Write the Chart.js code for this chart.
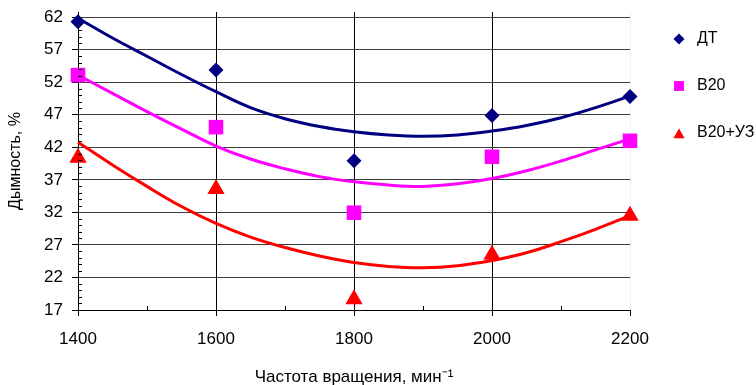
<!DOCTYPE html>
<html>
<head>
<meta charset="utf-8">
<script src="https://cdn.jsdelivr.net/npm/chart.js@4.4.1/dist/chart.umd.min.js"></script>
<style>
  html, body { margin: 0; padding: 0; background: #fff; }
  #wrap { width: 756px; height: 385px; }
</style>
</head>
<body>
<div id="wrap"><canvas id="smokeChart"></canvas></div>
<script>
// measured points
var rpm = [1400, 1600, 1800, 2000, 2200];
var dtValues = [61.3, 53.9, 39.95, 46.9, 49.8];
var b20Values = [53.1, 45.1, 31.95, 40.55, 43.0];
var b20usValues = [40.4, 35.6, 18.65, 25.5, 31.5];

// trend curves, every 50 rpm
var trendRpm = [1400, 1450, 1500, 1550, 1600, 1650, 1700, 1750, 1800, 1850, 1900, 1950, 2000, 2050, 2100, 2150, 2200];
var dtTrend = [61.85, 58.8, 56.0, 53.2, 50.55, 48.1, 46.4, 45.2, 44.4, 43.9, 43.7, 43.9, 44.5, 45.35, 46.55, 48.1, 49.9];
var b20Trend = [53.1, 50.3, 47.5, 44.8, 42.2, 40.2, 38.7, 37.5, 36.7, 36.2, 36.0, 36.4, 37.2, 38.4, 39.9, 41.6, 43.3];
var b20usTrend = [42.8, 39.3, 36.0, 32.9, 30.3, 28.2, 26.6, 25.3, 24.3, 23.7, 23.5, 23.8, 24.6, 25.8, 27.5, 29.4, 31.5];

// tick labels
var xTicks = [1400, 1600, 1800, 2000, 2200];
var xMinorTicks = [1500, 1700, 1900, 2100];
var yTicks = [17, 22, 27, 32, 37, 42, 47, 52, 57, 62];

var seriesNames = ['ДТ', 'В20', 'В20+УЗ'];

function toPoints(xs, ys) {
  return xs.map(function(x, i) { return { x: x, y: ys[i] }; });
}

var navy = '#000080';
var magenta = '#ff00ff';
var red = '#ff0000';
var font = 'Liberation Sans, Arial, sans-serif';

// small ticks between the labelled ones + right-hand legend
var extrasPlugin = {
  id: 'extras',
  afterDraw: function(chart) {
    var ctx = chart.ctx;
    var xs = chart.scales.x, ys = chart.scales.y;
    var area = chart.chartArea;
    ctx.save();
    ctx.strokeStyle = '#000';
    ctx.lineWidth = 1;
    ctx.beginPath();
    for (var v = 18; v < 62; v++) {
      if ((v - 17) % 5 === 0) continue;
      var py = Math.round(ys.getPixelForValue(v)) + 0.5;
      ctx.moveTo(area.left, py);
      ctx.lineTo(area.left + 4, py);
    }
    xMinorTicks.forEach(function(t) {
      var px = Math.round(xs.getPixelForValue(t)) + 0.5;
      ctx.moveTo(px, area.bottom);
      ctx.lineTo(px, area.bottom - 4);
    });
    ctx.stroke();

    // legend
    var styles = [
      { color: navy, pointStyle: 'rectRot', radius: 5.5 },
      { color: magenta, pointStyle: 'rect', radius: 7 },
      { color: red, pointStyle: 'triangle', radius: 6.5 }
    ];
    ctx.font = '16px ' + font;
    ctx.textBaseline = 'middle';
    ctx.textAlign = 'left';
    seriesNames.forEach(function(name, i) {
      var cy = 39 + i * 47;
      ctx.fillStyle = styles[i].color;
      Chart.helpers.drawPoint(ctx, { pointStyle: styles[i].pointStyle, radius: styles[i].radius, rotation: 0, borderWidth: 0 }, 679, cy + (i === 2 ? 2 : 0));
      ctx.fillStyle = '#000';
      ctx.fillText(name, 697, cy);
    });
    ctx.restore();
  }
};

var ctx = document.getElementById('smokeChart').getContext('2d');
var smokeChart = new Chart(ctx, {
  type: 'scatter',
  data: {
    datasets: [
      { label: seriesNames[0], data: toPoints(rpm, dtValues), backgroundColor: navy, pointStyle: 'rectRot', pointRadius: 7.5, pointBorderWidth: 0, clip: false },
      { label: seriesNames[1], data: toPoints(rpm, b20Values), backgroundColor: magenta, pointStyle: 'rect', pointRadius: 10.3, pointBorderWidth: 0, clip: false },
      { label: seriesNames[2], data: toPoints(rpm, b20usValues), backgroundColor: red, pointStyle: 'triangle', pointRadius: 10, pointBorderWidth: 0, clip: false },
      { type: 'line', data: toPoints(trendRpm, dtTrend), borderColor: navy, borderWidth: 3, pointRadius: 0, tension: 0.4, fill: false, clip: false },
      { type: 'line', data: toPoints(trendRpm, b20Trend), borderColor: magenta, borderWidth: 3, pointRadius: 0, tension: 0.4, fill: false, clip: false },
      { type: 'line', data: toPoints(trendRpm, b20usTrend), borderColor: red, borderWidth: 3, pointRadius: 0, tension: 0.4, fill: false, clip: false }
    ]
  },
  options: {
    responsive: true,
    maintainAspectRatio: false,
    animation: false,
    layout: { padding: { left: 0, right: 126, top: 12, bottom: 0 } },
    plugins: {
      legend: { display: false },
      tooltip: { enabled: false }
    },
    scales: {
      x: {
        type: 'linear',
        min: 1400,
        max: 2200,
        afterBuildTicks: function(scale) {
          scale.ticks = xTicks.map(function(v) { return { value: v }; });
        },
        afterFit: function(scale) {
          scale.height = 75;
          scale.paddingLeft = 0;
          scale.paddingRight = 0;
        },
        ticks: {
          color: '#000', font: { family: font, size: 17 }, padding: 13, maxRotation: 0,
          callback: function(v) { return String(v); }
        },
        grid: {
          color: function(c) { return c.tick && c.tick.value === 2200 ? 'rgba(0,0,0,0.06)' : '#000'; },
          tickColor: '#000',
          tickLength: 6,
          lineWidth: 1
        },
        border: { color: '#000', width: 1 },
        title: {
          display: true,
          text: 'Частота вращения, мин⁻¹',
          color: '#000',
          font: { family: font, size: 17 },
          padding: { top: 0, bottom: -3 }
        }
      },
      y: {
        min: 17,
        max: 62.8,
        afterBuildTicks: function(scale) {
          scale.ticks = yTicks.map(function(v) { return { value: v }; });
        },
        afterFit: function(scale) {
          scale.width = 78;
          scale.paddingTop = 0;
          scale.paddingBottom = 0;
        },
        ticks: { color: '#000', font: { family: font, size: 17 }, padding: 9 },
        grid: { color: '#3c3c3c', tickColor: '#000', tickLength: 6, lineWidth: 1 },
        border: { color: '#000', width: 1 },
        title: {
          display: true,
          text: 'Дымность, %',
          color: '#000',
          font: { family: font, size: 16 },
          padding: { top: 6, bottom: 0 }
        }
      }
    }
  },
  plugins: [extrasPlugin]
});
</script>
</body>
</html>
